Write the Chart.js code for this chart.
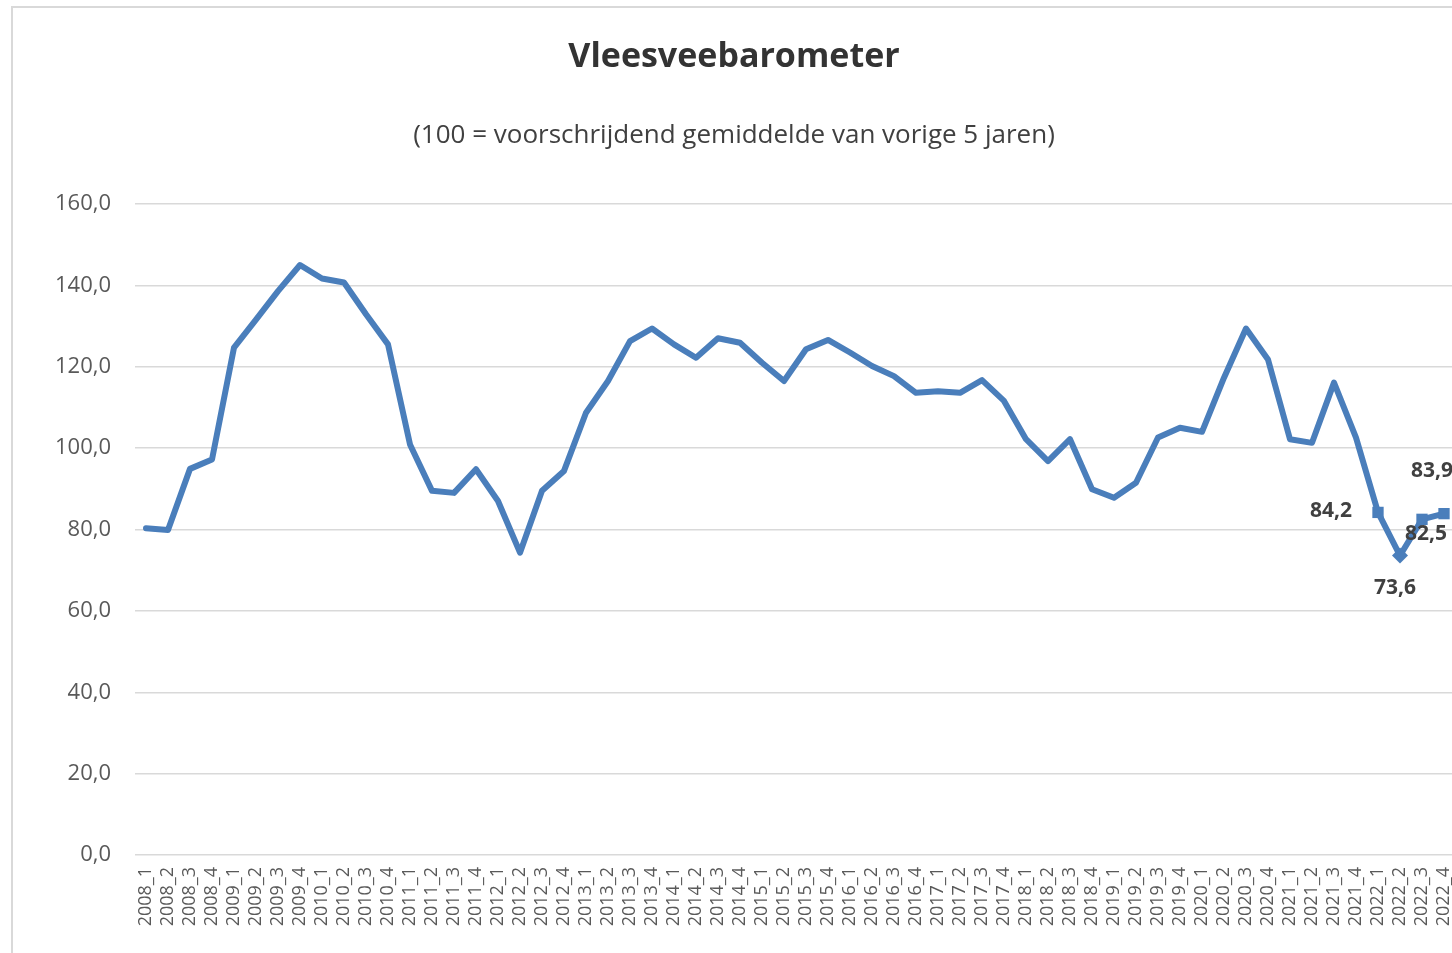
<!DOCTYPE html>
<html>
<head>
<meta charset="utf-8">
<script src="https://cdn.jsdelivr.net/npm/chart.js@4.4.1/dist/chart.umd.min.js"></script>
<style>
  html, body { margin: 0; padding: 0; background: #fff; overflow: hidden; width: 1452px; height: 953px; }
  #frame { position: absolute; left: 11px; top: 6px; width: 1500px; height: 1000px; border-top: 2px solid #d9d9d9; border-left: 2px solid #d9d9d9; }
  #wrap { position: absolute; left: 13px; top: 8px; width: 1452px; height: 1000px; }
</style>
</head>
<body>
<div id="frame"></div>
<div id="wrap"><canvas id="chart" width="1452" height="1000"></canvas></div>
<script>
// Vleesveebarometer - kwartaalcijfers
const quarters = [
  '2008_1', '2008_2', '2008_3', '2008_4', '2009_1', '2009_2', '2009_3', '2009_4',
  '2010_1', '2010_2', '2010_3', '2010_4', '2011_1', '2011_2', '2011_3', '2011_4',
  '2012_1', '2012_2', '2012_3', '2012_4', '2013_1', '2013_2', '2013_3', '2013_4',
  '2014_1', '2014_2', '2014_3', '2014_4', '2015_1', '2015_2', '2015_3', '2015_4',
  '2016_1', '2016_2', '2016_3', '2016_4', '2017_1', '2017_2', '2017_3', '2017_4',
  '2018_1', '2018_2', '2018_3', '2018_4', '2019_1', '2019_2', '2019_3', '2019_4',
  '2020_1', '2020_2', '2020_3', '2020_4', '2021_1', '2021_2', '2021_3', '2021_4',
  '2022_1', '2022_2', '2022_3', '2022_4'
];

const barometer = [
  80.3, 79.9, 94.9, 97.2,
  124.7, 131.6, 138.6, 145.0,
  141.7, 140.7, 132.9, 125.5,
  100.9, 89.5, 89.0, 94.8,
  87.0, 74.3, 89.5, 94.4,
  108.7, 116.5, 126.3, 129.4,
  125.5, 122.2, 127.0, 125.9,
  121.0, 116.5, 124.3, 126.6,
  123.5, 120.2, 117.7, 113.6,
  114.0, 113.6, 116.7, 111.6,
  102.2, 96.8, 102.2, 89.9,
  87.8, 91.5, 102.6, 105.0,
  104.0, 117.3, 129.4, 121.8,
  102.2, 101.3, 116.1, 102.6,
  84.2, 73.6, 82.5, 83.9
];

const yTicks = [0, 20, 40, 60, 80, 100, 120, 140, 160];

// laatste 4 kwartalen krijgen een marker + label
const firstMarked = 56;
const labelOffsets = { 56: [-47, -1], 57: [-5, 32], 58: [4, 15], 59: [-12, -43] };

const fmt = v => v.toFixed(1).replace('.', ',');
const BLUE = '#4a7ebb';

const dataLabels = {
  id: 'dataLabels',
  afterDatasetsDraw(chart) {
    const ctx = chart.ctx;
    const meta = chart.getDatasetMeta(0);
    ctx.save();
    ctx.font = 'bold 21px "Open Sans", sans-serif';
    ctx.fillStyle = '#404040';
    ctx.textAlign = 'center';
    ctx.textBaseline = 'middle';
    Object.keys(labelOffsets).forEach(k => {
      const i = Number(k);
      const pt = meta.data[i];
      const [dx, dy] = labelOffsets[k];
      ctx.fillText(fmt(barometer[i]), pt.x + dx, pt.y + dy);
    });
    ctx.restore();
  }
};

new Chart(document.getElementById('chart'), {
  type: 'line',
  data: {
    labels: quarters,
    datasets: [{
      data: barometer,
      borderColor: BLUE,
      backgroundColor: BLUE,
      borderWidth: 6,
      borderJoinStyle: 'round',
      borderCapStyle: 'round',
      tension: 0,
      pointRadius: c => c.dataIndex >= firstMarked ? 8 : 0,
      pointStyle: c => c.dataIndex === 57 ? 'rectRot' : 'rect',
      pointBorderWidth: 0
    }]
  },
  options: {
    responsive: false,
    animation: false,
    layout: { padding: { left: 0, right: 10, top: 0, bottom: 0 } },
    plugins: {
      legend: { display: false },
      tooltip: { enabled: false },
      title: {
        display: true,
        text: 'Vleesveebarometer',
        color: '#333333',
        font: { family: '"Open Sans", sans-serif', size: 34, weight: 'bold' },
        padding: { top: 29, bottom: 0 }
      },
      subtitle: {
        display: true,
        text: '(100 = voorschrijdend gemiddelde van vorige 5 jaren)',
        color: '#404040',
        font: { family: '"Open Sans", sans-serif', size: 26 },
        padding: { top: 42, bottom: 53 }
      }
    },
    scales: {
      x: {
        offset: true,
        grid: { display: false, drawTicks: false },
        border: { display: false },
        ticks: {
          autoSkip: false,
          minRotation: 90,
          maxRotation: 90,
          padding: 12,
          color: '#595959',
          font: { family: '"Open Sans", sans-serif', size: 18 }
        },
        afterFit: s => { s.height = 153; s.paddingLeft = 0; s.paddingRight = 0; }
      },
      y: {
        min: 0,
        max: 160,
        afterBuildTicks: s => { s.ticks = yTicks.map(v => ({ value: v })); },
        grid: { color: '#d9d9d9', lineWidth: 1.5, drawTicks: false },
        border: { display: false },
        ticks: {
          padding: 24,
          color: '#595959',
          font: { family: '"Open Sans", sans-serif', size: 22 },
          callback: v => fmt(v)
        },
        afterFit: s => { s.width = 122; }
      }
    }
  },
  plugins: [dataLabels]
});
</script>
</body>
</html>
